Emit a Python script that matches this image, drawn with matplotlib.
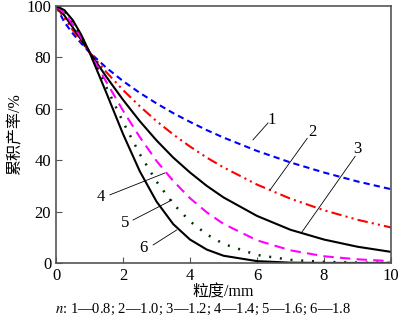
import numpy as np
import matplotlib.pyplot as plt

plt.rcParams['font.family'] = ['Liberation Serif', 'Noto Sans CJK SC']
plt.rcParams['mathtext.fontset'] = 'stix'

size = [0, 0.25, 0.5, 0.75, 1, 1.5, 2, 2.5, 3, 3.5, 4, 4.5, 5, 6, 7, 8, 9, 10]

# cumulative yield (%), one list per n
y1 = [100, 93.7, 89.3, 85.5, 82.0, 76.0, 70.8, 66.2, 62.1, 58.3, 54.9, 51.7, 48.8, 43.6, 39.1, 35.2, 31.7, 28.7]
y2 = [100, 95.2, 90.6, 86.2, 82.0, 74.3, 67.3, 61.0, 55.2, 50.0, 45.3, 41.0, 37.2, 30.5, 25.0, 20.5, 16.8, 13.8]
y3 = [100, 96.3, 91.7, 86.9, 82.0, 72.5, 63.5, 55.2, 47.7, 41.0, 35.2, 30.0, 25.5, 18.3, 12.9, 9.1, 6.3, 4.3]
y4 = [100, 97.2, 92.8, 87.6, 82.0, 70.5, 59.3, 49.0, 39.7, 31.9, 25.2, 19.7, 15.2, 8.8, 4.9, 2.6, 1.4, 0.7]
y5 = [100, 97.9, 93.7, 88.3, 82.0, 68.5, 54.9, 42.4, 31.7, 23.0, 16.2, 11.1, 7.4, 3.1, 1.2, 0.4, 0.1, 0.0]
y6 = [100, 98.4, 94.5, 88.9, 82.0, 66.3, 50.2, 35.7, 23.9, 15.1, 9.1, 5.2, 2.8, 0.7, 0.1, 0.0, 0.0, 0.0]

labels = ['1', '2', '3', '4', '5', '6']
label_xy = [(6.45, 55.5), (7.65, 51.0), (9.0, 44.5), (1.35, 25.5), (2.05, 15.5), (2.6, 5.8)]
leader = [((5.88, 47.9), (6.33, 54.5)), ((6.39, 28.4), (7.5, 48.5)), ((7.34, 12.0), (8.93, 41.5)),
          ((3.25, 35.0), (1.61, 26.5)), ((3.46, 24.5), (2.3, 16.7)), ((3.6, 12.8), (2.9, 7.0))]

fig = plt.figure(figsize=(4, 3.25), dpi=100)
ax = fig.add_axes([0.14, 0.191, 0.8375, 0.7905])

ax.plot(size, y1, color='#0000ff', lw=1.5, ls=(0, (3, 2)))
ax.plot(size, y2, color='#ff0000', lw=1.5, ls=(0, (5, 2, 1, 2, 1, 2)))
ax.plot(size, y3, color='black', lw=1.5)
ax.plot(size, y4, color='#ff00ff', lw=1.5, ls=(0, (5, 3)))
ax.plot(size, y5, color='#003300', lw=1.8, ls=(0, (0.8, 3.5)))
ax.plot(size, y6, color='black', lw=1.5)

for lab, (tx, ty), (p0, p1) in zip(labels, label_xy, leader):
    ax.plot([p0[0], p1[0]], [p0[1], p1[1]], color='black', lw=0.6)
    ax.text(tx, ty, lab, fontsize=12, ha='center', va='center')

ax.set_xlim(0, 10)
ax.set_ylim(0, 100)
ax.set_xticks([0, 2, 4, 6, 8, 10])
ax.set_yticks([0, 20, 40, 60, 80, 100])
ax.tick_params(direction='in', labelsize=12, length=4, color='#555555')
ax.tick_params(axis='x', pad=4)
for s in ax.spines.values():
    s.set_color('#555555')
    s.set_linewidth(1.2)

ax.set_xlabel('粒度/mm', fontsize=11.5, labelpad=0)
ax.set_ylabel('累积产率/%', fontsize=11.5, labelpad=2)
fig.text(0.507, 0.047, '$n$: 1—0.8; 2—1.0; 3—1.2; 4—1.4; 5—1.6; 6—1.8',
         ha='center', va='center', fontsize=10.5)

fig.savefig('out.png', dpi=100)
